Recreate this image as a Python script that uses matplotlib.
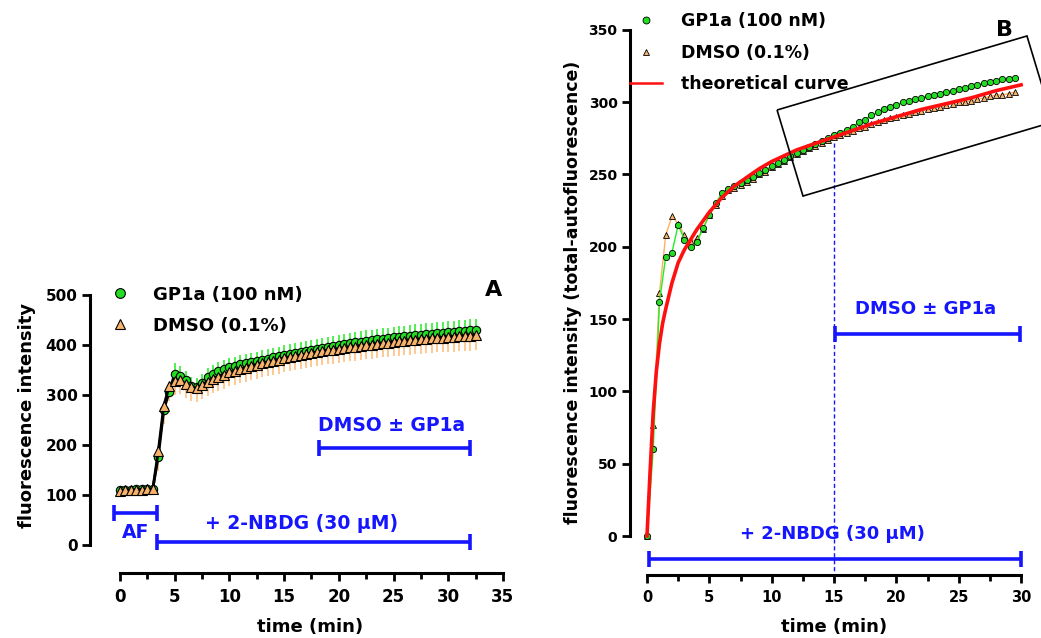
import numpy as np
import matplotlib as mpl
from matplotlib.figure import Figure
from matplotlib.lines import Line2D
from matplotlib.patches import Polygon

mpl.rcParams['font.family'] = ['DejaVu Sans']
mpl.rcParams['font.weight'] = 'bold'

# ---- panel A : raw fluorescence, mean with one-sided error bars
time_a = [0, 0.5, 1, 1.5, 2, 2.5, 3, 3.5, 4, 4.5,
          5, 5.5, 6, 6.5, 7, 7.5, 8, 8.5, 9, 9.5,
          10, 10.5, 11, 11.5, 12, 12.5, 13, 13.5, 14, 14.5,
          15, 15.5, 16, 16.5, 17, 17.5, 18, 18.5, 19, 19.5,
          20, 20.5, 21, 21.5, 22, 22.5, 23, 23.5, 24, 24.5,
          25, 25.5, 26, 26.5, 27, 27.5, 28, 28.5, 29, 29.5,
          30, 30.5, 31, 31.5, 32, 32.5]
gp1a_a = [110, 111, 111, 112, 112, 113, 113, 177, 270, 307,
          342, 338, 330, 318, 316, 325, 336, 343, 348, 352,
          356, 359, 362, 364, 366, 368, 371, 373, 376, 378,
          381, 383, 385, 387, 389, 391, 393, 395, 397, 399,
          400, 402, 404, 406, 407, 409, 410, 412, 413, 414,
          416, 417, 418, 419, 420, 421, 422, 423, 424, 425,
          426, 427, 428, 429, 430, 431]
gp1a_err_a = [4, 4, 4, 4, 4, 4, 4, 12, 14, 16,
              22, 20, 18, 18, 18, 18, 18, 18, 18, 18,
              18, 18, 18, 18, 18, 18, 19, 19, 19, 19,
              19, 19, 19, 19, 20, 20, 20, 20, 20, 20,
              20, 20, 20, 20, 21, 21, 21, 21, 21, 21,
              21, 21, 21, 21, 22, 22, 22, 22, 22, 22,
              22, 22, 22, 22, 22, 22]
dmso_a = [108, 110, 110, 111, 111, 112, 112, 188, 278, 318,
          328, 330, 322, 316, 314, 320, 327, 333, 337, 341,
          346, 349, 352, 355, 358, 361, 364, 366, 369, 371,
          374, 376, 378, 380, 382, 384, 386, 388, 390, 391,
          393, 394, 396, 397, 399, 400, 401, 402, 404, 405,
          407, 408, 409, 410, 411, 412, 413, 414, 415, 415,
          416, 417, 418, 418, 419, 420]
dmso_err_a = [5, 5, 5, 5, 5, 5, 5, 40, 35, 30,
              28, 28, 28, 28, 28, 28, 28, 28, 28, 28,
              28, 28, 28, 28, 28, 28, 28, 28, 28, 28,
              28, 28, 28, 28, 28, 28, 28, 28, 28, 28,
              28, 28, 28, 28, 28, 28, 28, 28, 28, 28,
              29, 29, 29, 29, 29, 29, 29, 29, 29, 29,
              30, 30, 30, 30, 30, 30]

# ---- panel B : total minus autofluorescence + theoretical curve
time_b = [0, 0.5, 1, 1.5, 2, 2.5, 3, 3.5, 4, 4.5,
          5, 5.5, 6, 6.5, 7, 7.5, 8, 8.5, 9, 9.5,
          10, 10.5, 11, 11.5, 12, 12.5, 13, 13.5, 14, 14.5,
          15, 15.5, 16, 16.5, 17, 17.5, 18, 18.5, 19, 19.5,
          20, 20.5, 21, 21.5, 22, 22.5, 23, 23.5, 24, 24.5,
          25, 25.5, 26, 26.5, 27, 27.5, 28, 28.5, 29, 29.5]
gp1a_b = [0, 60, 162, 193, 196, 215, 205, 200, 203, 213,
          222, 230, 237, 240, 242, 244, 246, 248, 251, 253,
          256, 258, 260, 263, 265, 267, 269, 271, 273, 275,
          277, 279, 281, 283, 286, 288, 291, 293, 295, 297,
          298, 300, 301, 302, 303, 304, 305, 306, 307, 308,
          309, 310, 311, 312, 313, 314, 315, 316, 316, 317]
dmso_b = [0, 77, 168, 208, 221, 216, 208, 203, 206, 212,
          222, 229, 235, 239, 241, 243, 245, 247, 250, 252,
          255, 257, 259, 262, 264, 266, 268, 270, 272, 274,
          276, 277, 279, 280, 282, 283, 285, 286, 288, 289,
          290, 291, 292, 293, 294, 295, 296, 297, 298, 299,
          300, 300, 301, 302, 303, 304, 305, 305, 306, 307]
theo_t = [0, 0.25, 0.5, 0.75, 1, 1.25, 1.5, 2, 2.5, 3, 3.5, 4, 5, 6, 7, 8,
          9, 10, 12, 14, 15, 16, 18, 20, 22, 24, 26, 28, 30]
theo_y = [0, 45, 86, 114, 133, 147, 157, 175, 189, 198, 205, 212, 224, 234,
          242, 248, 254, 259, 267, 273, 276, 279, 285, 290, 295, 299, 303,
          308, 312]

GREEN = "#22dd22"
GREEN_ERR = "#33ee33"
ORANGE = "#f7b36b"
ORANGE_ERR = "#ffbf80"
BLUE = "#1515ff"

W, H = 1041, 638


def px_axes(fig, left, top, right, bottom):
	return fig.add_axes([left / W, 1 - bottom / H,
	                     (right - left) / W, (bottom - top) / H])


def style_axes(ax, xmax, ymax, ystep, xsize, ysize):
	ax.spines["top"].set_visible(False)
	ax.spines["right"].set_visible(False)
	for s in ["left", "bottom"]:
		ax.spines[s].set_linewidth(2.2)
	ax.spines["left"].set_bounds(0, ymax)
	ax.spines["bottom"].set_bounds(0, xmax)
	# ticks only inside the spine bounds
	ax.set_xticks(np.arange(0, xmax + 1, 5))
	ax.set_xticks(np.arange(2.5, xmax, 5), minor=True)
	ax.set_yticks(np.arange(0, ymax + 1, ystep))
	ax.tick_params(axis="both", which="major", width=2, length=6)
	ax.tick_params(axis="x", which="minor", width=2, length=4)
	ax.tick_params(axis="x", labelsize=xsize, pad=5)
	ax.tick_params(axis="y", labelsize=ysize, pad=3)
	for lab in ax.get_xticklabels() + ax.get_yticklabels():
		lab.set_fontweight("bold")


def bracket(ax, x0, x1, y):
	ax.plot([x0, x1], [y, y], color=BLUE, lw=2.6, marker="|", ms=12,
	        mew=2.6, clip_on=False, solid_capstyle="butt")


fig = Figure(figsize=(W / 100, H / 100), dpi=100)
fig.patch.set_facecolor("white")

############ panel A
ax = px_axes(fig, 90, 270, 510, 573)
ax.set_xlim((90 - 120) / 10.94, (510 - 120) / 10.94)
ax.set_ylim(-56, 550)

zeros = [0] * len(time_a)
ax.errorbar(time_a, dmso_a, yerr=[dmso_err_a, zeros], fmt="none",
            ecolor=ORANGE_ERR, elinewidth=1.2, capsize=0, zorder=1)
ax.errorbar(time_a, gp1a_a, yerr=[zeros, gp1a_err_a], fmt="none",
            ecolor=GREEN_ERR, elinewidth=1.2, capsize=0, zorder=1)
ax.plot(time_a, gp1a_a, color="black", lw=2, marker="o", ms=6,
        mfc=GREEN, mec="black", mew=0.8, zorder=3)
ax.plot(time_a, dmso_a, color="black", lw=2, marker="^", ms=6.5,
        mfc=ORANGE, mec="black", mew=0.8, zorder=3)

style_axes(ax, 35, 500, 100, 12, 11)
ax.set_xlabel("time (min)", fontsize=13, fontweight="bold")
ax.xaxis.set_label_coords(0.524, -0.15)
ax.set_ylabel("fluorescence intensity", fontsize=13, fontweight="bold")
ax.yaxis.set_label_coords(-0.128, 0.52)

handles = [
	Line2D([], [], ls="none", marker="o", ms=7, mfc=GREEN, mec="black", mew=0.8),
	Line2D([], [], ls="none", marker="^", ms=7, mfc=ORANGE, mec="black", mew=0.8),
]
ax.legend(handles, ["GP1a (100 nM)", "DMSO (0.1%)"], loc="upper left",
          bbox_to_anchor=(0.05, 0.948), frameon=False, fontsize=13,
          handlelength=1.0, handletextpad=1.3, borderpad=0, borderaxespad=0,
          labelspacing=0.72)

bracket(ax, -0.55, 3.41, 65)
ax.text(1.4, 24, "AF", color=BLUE, fontsize=13.5, fontweight="bold",
        ha="center", va="center")
bracket(ax, 3.41, 32.0, 7)
ax.text(16.6, 43, "+ 2-NBDG (30 \u00b5M)", color=BLUE, fontsize=13.5,
        fontweight="bold", ha="center", va="center")
bracket(ax, 18.2, 32.0, 195)
ax.text(24.8, 239, "DMSO \u00b1 GP1a", color=BLUE, fontsize=13.5,
        fontweight="bold", ha="center", va="center")
ax.text(34.1, 510, "A", fontsize=16, fontweight="bold", ha="center", va="center")

############ panel B
bx = px_axes(fig, 630, 10, 1035, 575)
bx.set_xlim((630 - 647) / 12.47, (1035 - 647) / 12.47)
bx.set_ylim((536 - 575) / 1.446, (536 - 10) / 1.446)

bx.plot(time_b, dmso_b, color="#ffb060", lw=1, marker="^", ms=4.5,
        mfc=ORANGE, mec="black", mew=0.6, zorder=3)
bx.plot(time_b, gp1a_b, color="#22ee22", lw=1, marker="o", ms=4.5,
        mfc=GREEN, mec="black", mew=0.6, zorder=3)
bx.plot(theo_t, theo_y, color="#ff1010", lw=2.6, zorder=4)

style_axes(bx, 30, 350, 50, 10.5, 10)
bx.set_xlabel("time (min)", fontsize=13, fontweight="bold")
bx.xaxis.set_label_coords(0.504, -0.076)
bx.set_ylabel("fluorescence intensity (total-autofluorescence)",
              fontsize=12.5, fontweight="bold")
bx.yaxis.set_label_coords(-0.118, 0.5)

handles = [
	Line2D([], [], ls="none", marker="o", ms=5, mfc=GREEN, mec="black", mew=0.6),
	Line2D([], [], ls="none", marker="^", ms=5, mfc=ORANGE, mec="black", mew=0.6),
	Line2D([], [], color="#ff1010", lw=1.8),
]
bx.legend(handles, ["GP1a (100 nM)", "DMSO (0.1%)", "theoretical curve"],
          loc="upper left", bbox_to_anchor=(0.0, 0.997), frameon=False,
          fontsize=12.5, handlelength=1.84, handletextpad=1.1, borderpad=0,
          borderaxespad=0, labelspacing=0.8)

# highlight box round the late part of the curves
box = [(10.43, 294.6), (30.47, 345.8), (32.56, 286.3), (12.51, 235.1)]
bx.add_patch(Polygon(box, closed=True, fill=False, ec="black", lw=1.2,
                     clip_on=False, zorder=5))

bx.plot([15, 15], [272, (536 - 575) / 1.446], color=BLUE, lw=1,
        ls=(0, (3, 2)), clip_on=False, zorder=2)
bracket(bx, 15.1, 29.9, 140)
bx.text(22.3, 157, "DMSO \u00b1 GP1a", color=BLUE, fontsize=13,
        fontweight="bold", ha="center", va="center")
bracket(bx, 0.2, 30.0, -16)
bx.text(14.9, 1.5, "+ 2-NBDG (30 \u00b5M)", color=BLUE, fontsize=13,
        fontweight="bold", ha="center", va="center")
bx.text(28.7, 350, "B", fontsize=16, fontweight="bold", ha="center", va="center")

fig.savefig("out.png", dpi=100)
